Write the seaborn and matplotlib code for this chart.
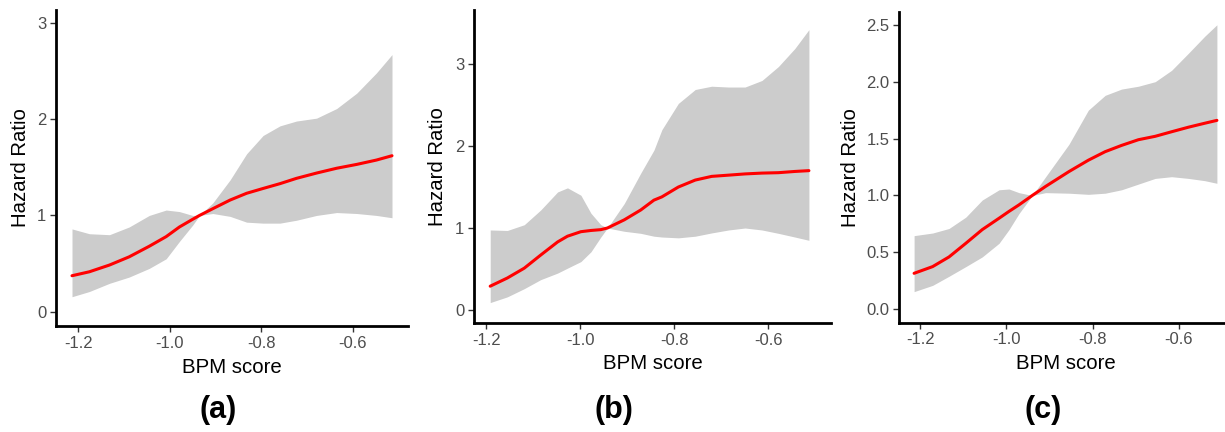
import numpy as np
import pandas as pd
import matplotlib
matplotlib.use("Agg")
import matplotlib.pyplot as plt
import seaborn as sns

# ---------------- data ----------------
# Panel (a)
a_x = [-1.214, -1.176, -1.132, -1.089, -1.045, -1.008, -0.979, -0.950, -0.935, -0.906,
       -0.868, -0.832, -0.796, -0.759, -0.723, -0.679, -0.635, -0.591, -0.548, -0.514]
a_hr = [0.374, 0.415, 0.485, 0.57, 0.68, 0.78, 0.88, 0.96, 1.0, 1.07,
        1.16, 1.23, 1.28, 1.33, 1.385, 1.44, 1.49, 1.53, 1.575, 1.62]
a_lo = [0.156, 0.21, 0.295, 0.36, 0.45, 0.55, 0.73, 0.90, 1.0, 1.02,
        0.99, 0.93, 0.92, 0.92, 0.95, 1.0, 1.03, 1.02, 1.0, 0.976]
a_hi = [0.86, 0.81, 0.80, 0.88, 1.0, 1.056, 1.04, 1.0, 1.0, 1.13,
        1.37, 1.64, 1.83, 1.93, 1.98, 2.01, 2.11, 2.27, 2.48, 2.67]

# Panel (b)
b_x = [-1.1915, -1.155, -1.119, -1.084, -1.048, -1.027, -0.9985, -0.977, -0.956, -0.942,
       -0.906, -0.871, -0.843, -0.826, -0.791, -0.755, -0.720, -0.684, -0.649, -0.613,
       -0.578, -0.543, -0.513]
b_hr = [0.29, 0.39, 0.51, 0.67, 0.83, 0.90, 0.955, 0.97, 0.98, 1.0,
        1.10, 1.22, 1.34, 1.38, 1.50, 1.585, 1.63, 1.645, 1.66, 1.67,
        1.675, 1.69, 1.70]
b_lo = [0.09, 0.16, 0.26, 0.37, 0.45, 0.51, 0.59, 0.71, 0.89, 1.0,
        0.96, 0.935, 0.90, 0.89, 0.88, 0.90, 0.94, 0.976, 1.0, 0.976,
        0.935, 0.89, 0.85]
b_hi = [0.976, 0.97, 1.04, 1.22, 1.44, 1.49, 1.40, 1.18, 1.04, 1.0,
        1.30, 1.67, 1.95, 2.20, 2.52, 2.69, 2.73, 2.72, 2.72, 2.80,
        2.97, 3.19, 3.42]

# Panel (c)
c_x = [-1.214, -1.171, -1.133, -1.094, -1.056, -1.017, -0.994, -0.971, -0.940, -0.909,
       -0.855, -0.810, -0.771, -0.733, -0.694, -0.655, -0.617, -0.578, -0.540, -0.512]
c_hr = [0.316, 0.375, 0.46, 0.58, 0.70, 0.80, 0.86, 0.917, 1.0, 1.08,
        1.21, 1.31, 1.385, 1.44, 1.49, 1.52, 1.56, 1.60, 1.635, 1.66]
c_lo = [0.155, 0.21, 0.29, 0.375, 0.46, 0.58, 0.70, 0.84, 1.0, 1.025,
        1.02, 1.01, 1.02, 1.05, 1.10, 1.15, 1.165, 1.15, 1.13, 1.107]
c_hi = [0.647, 0.67, 0.71, 0.81, 0.96, 1.05, 1.057, 1.025, 1.0, 1.165,
        1.45, 1.75, 1.88, 1.935, 1.96, 2.0, 2.10, 2.25, 2.40, 2.50]

x_ticks = [-1.2, -1.0, -0.8, -0.6]
x_tick_labels = ["-1.2", "-1.0", "-0.8", "-0.6"]
a_yticks = [0, 1, 2, 3]
a_ylabels = ["0", "1", "2", "3"]
b_yticks = [0, 1, 2, 3]
b_ylabels = ["0", "1", "2", "3"]
c_yticks = [0.0, 0.5, 1.0, 1.5, 2.0, 2.5]
c_ylabels = ["0.0", "0.5", "1.0", "1.5", "2.0", "2.5"]
panel_labels = ["(a)", "(b)", "(c)"]
x_title = "BPM score"
y_title = "Hazard Ratio"

# ---------------- style ----------------
sns.set_theme(style="white")
plt.rcParams['font.family'] = ['Liberation Sans', 'DejaVu Sans']

W, H = 1225, 432
fig = plt.figure(figsize=(W / 100, H / 100), dpi=100)

def px_axes(l, r, t, b):
    return [l / W, (H - b) / H, (r - l) / W, (b - t) / H]

panels = [
    dict(x=a_x, hr=a_hr, lo=a_lo, hi=a_hi, yt=a_yticks, yl=a_ylabels,
         rect=px_axes(56, 408, 10, 326), xlim=(-1.249, -0.479), ylim=(-0.148, 3.133),
         ylab=-0.102, lab_x=218),
    dict(x=b_x, hr=b_hr, lo=b_lo, hi=b_hi, yt=b_yticks, yl=b_ylabels,
         rect=px_axes(474, 831, 10, 323), xlim=(-1.226, -0.466), ylim=(-0.159, 3.66),
         ylab=-0.101, lab_x=614),
    dict(x=c_x, hr=c_hr, lo=c_lo, hi=c_hi, yt=c_yticks, yl=c_ylabels,
         rect=px_axes(899, 1232, 11.7, 322.7), xlim=(-1.249, -0.477), ylim=(-0.118, 2.615),
         ylab=-0.147, lab_x=1043),
]

for p, lab in zip(panels, panel_labels):
    ax = fig.add_axes(p["rect"])
    df = pd.DataFrame({"x": p["x"], "hr": p["hr"], "lo": p["lo"], "hi": p["hi"]})
    ax.fill_between(df["x"], df["lo"], df["hi"], color="#CCCCCC", linewidth=0, zorder=1)
    sns.lineplot(data=df, x="x", y="hr", ax=ax, color="#FF0000", linewidth=2.2,
                 estimator=None, sort=False, zorder=3)
    ax.set_xlim(*p["xlim"])
    ax.set_ylim(*p["ylim"])
    ax.set_xticks(x_ticks)
    ax.set_xticklabels(x_tick_labels)
    ax.set_yticks(p["yt"])
    ax.set_yticklabels(p["yl"])
    for s in ["top", "right"]:
        ax.spines[s].set_visible(False)
    for s in ["left", "bottom"]:
        ax.spines[s].set_color("black")
        ax.spines[s].set_linewidth(2.0)
    ax.tick_params(axis="both", which="major", length=4, width=1.0, color="#333333",
                   labelcolor="#4D4D4D", labelsize=12, pad=3,
                   bottom=True, left=True)
    ax.set_xlabel(x_title, fontsize=14.7, color="black")
    ax.set_ylabel(y_title, fontsize=14.7, color="black")
    ax.yaxis.set_label_coords(p["ylab"], 0.5)
    ax.xaxis.set_label_coords(0.5, -0.13)
    ax.xaxis.label.set_va("center")
    ax.yaxis.label.set_va("center")
    ax.set_facecolor("white")
    fig.text(p["lab_x"] / W, (H - 410) / H, lab, fontsize=22, fontweight="bold",
             ha="center", va="center", color="black")

fig.savefig("out.png", dpi=100, facecolor="white")
